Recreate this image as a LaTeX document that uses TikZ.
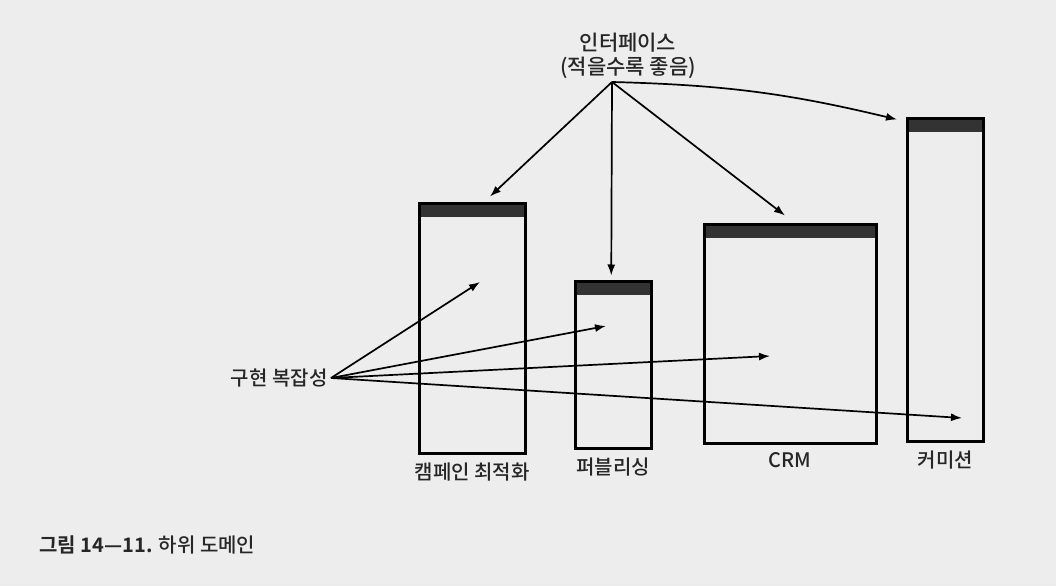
\documentclass[tikz,border=0pt]{standalone}
\usepackage{fontspec}
\setmainfont{Noto Sans CJK KR}[UprightFont={* Medium},BoldFont={* Bold}]
\usepackage{tikz}
\usetikzlibrary{arrows.meta,positioning}
\tikzset{
  % boxes for the sub-domains, with a dark bar on top
  domain box/.style={draw,line width=2.5pt,inner sep=0,anchor=south west,
    path picture={\fill[black!80] (path picture bounding box.north west)
      rectangle ([yshift=-13pt]path picture bounding box.north east);}},
  domain label/.style={font=\fontsize{20}{23}\selectfont,text=black!85},
  arr/.style={-{Latex[length=11pt,width=8pt]},line width=1.7pt}
}

\begin{document}
\begin{tikzpicture}[x=1pt,y=1pt]
  \fill[black!7] (0,0) rectangle (1056,586);
  \useasboundingbox (0,0) rectangle (1056,586);
  % The sub-domains
  \node(camp)[domain box,minimum width=106pt,minimum height=250pt] at (418,131) {};
  \node(pub)[domain box,minimum width=76pt,minimum height=167pt] at (574,136) {};
  \node(crm)[domain box,minimum width=172pt,minimum height=219pt] at (703,141) {};
  \node(comm)[domain box,minimum width=76pt,minimum height=323pt] at (906,143) {};
  \node(campL)[domain label,below=4pt of camp]{캠페인 최적화};
  \node(pubL)[domain label,below=4pt of pub]{퍼블리싱};
  \node(crmL)[domain label,below=4pt of crm]{CRM};
  \node(commL)[domain label,below=4pt of comm]{커미션};
  % interface
  \node(iface)[domain label,font=\fontsize{21}{24}\selectfont,align=center,inner sep=1pt] at (628,530) {인터페이스\\(적을수록 좋음)};
  \coordinate(src) at (612,504);
  \draw[arr] (src) -- ([xshift=72pt,yshift=6pt]camp.north west);
  \draw[arr] (src) -- ([xshift=-2pt,yshift=5pt]pub.north);
  \draw[arr] (src) -- ([xshift=82pt,yshift=8pt]crm.north west);
  \draw[arr] (src) to[bend left=6] ([xshift=-9pt,yshift=-2pt]comm.north west);
  % implementation complexity
  \node(cplx)[domain label,anchor=east] at (331,208) {구현 복잡성};
  \coordinate(c1) at (480,304);
  \coordinate(c2) at (606,260);
  \coordinate(c3) at (770,230);
  \coordinate(c4) at (962,168);
  \foreach \t in {c1,c2,c3,c4}
    \draw[arr] (cplx.east) -- (\t);
  % caption
  \node(cap)[domain label,anchor=west] at (36,41) {\textbf{그림 14—11.} 하위 도메인};
\end{tikzpicture}
\end{document}
